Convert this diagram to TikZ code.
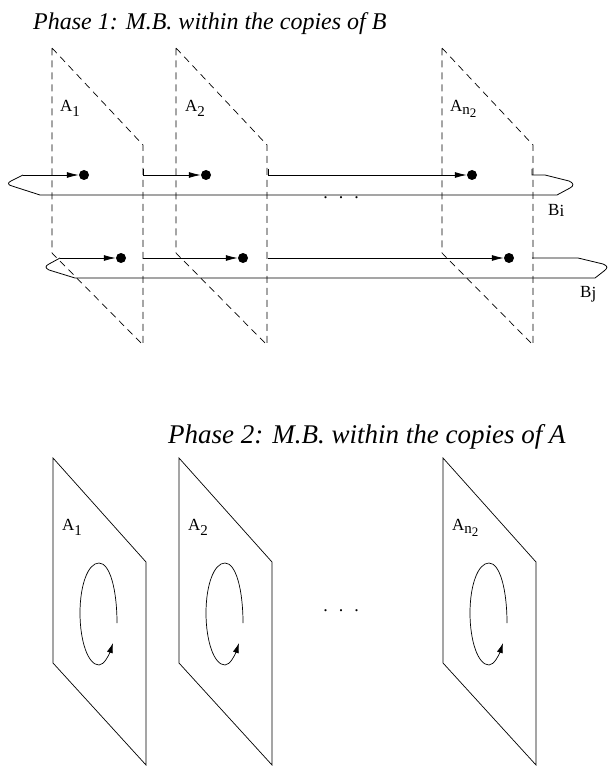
\documentclass[tikz,border=0pt]{standalone}
\usepackage{fontspec}
\setmainfont{Liberation Serif}
\usetikzlibrary{arrows.meta,calc}
\newcommand{\sub}[1]{\raisebox{-5pt}{\fontsize{15}{15}\selectfont #1}}
\newcommand{\subn}{\raisebox{-3pt}{\fontsize{15}{15}\selectfont n\raisebox{-3pt}{\fontsize{13}{13}\selectfont 2}}}
\newcommand{\tsub}[1]{\raisebox{-1.5pt}{#1}}

\begin{document}
\begin{tikzpicture}[
  x=1pt, y=-1pt,
  >={Latex[length=12pt,width=6pt]},
  hid/.style={line width=0.7pt, dash pattern=on 7pt off 5pt},
  sheet/.style={line width=0.7pt},
  tube/.style={line width=0.8pt},
  bead/.style={circle, fill=black, inner sep=0pt, minimum size=10pt},
  lab/.style={font=\fontsize{17}{20}\selectfont, inner sep=0pt, anchor=base west},
  ttl/.style={font=\itshape, inner sep=0pt, anchor=base west},
  dots/.style={font=\fontsize{18}{20}\selectfont, inner sep=0pt, anchor=base},
]
\useasboundingbox (0,0) rectangle (608,767);
% phase 1: dashed copies of A, crossed by the tubes B_i and B_j
\node[ttl, font=\itshape\fontsize{24}{28}\selectfont] (t1) at (33,30) {Phase 1: M.B. within the copies of B};
\foreach \L/\nm in {52/1,176/2,442/n}
  \draw[hid] (\L,48) -- ++(91,97) -- ++(0,200) -- ++(-91,-92) -- cycle;
\node[lab] (a1) at (60,112) {A\sub{1}};
\node[lab] (a2) at (185,112) {A\sub{2}};
\node[lab] (an) at (450,112) {A\subn};
% beads and the arrows that reach them
\foreach \t/\yy/\ba/\bb/\bc/\sa in {i/175/84/206/472/23, j/258/121/243/509/60}{
  \node[bead] (\t1) at (\ba,\yy) {};
  \node[bead] (\t2) at (\bb,\yy) {};
  \node[bead] (\t3) at (\bc,\yy) {};
  \coordinate (\t s1) at (\sa,\yy);
  \coordinate (\t s2) at (143,\yy);
  \coordinate (\t s3) at (268,\yy);
  \foreach \n in {1,2,3} \draw[tube,->] (\t s\n) -- (\t\n.west);
}
\foreach \xx in {143,268} \draw[tube] (\xx,169) -- (\xx,175);
% tube outlines
\draw[tube] (is1) -- (11,181) .. controls (7,183) and (8,185) .. (12,186) -- (40,195) -- (557,195)
  -- (570,188) .. controls (574,186) and (574,183) .. (569,181) -- (545,175) -- (532,175) -- (532,169);
\draw[tube] (js1) -- (49,264) .. controls (45,266) and (45,268) .. (49,270) -- (75,278) -- (595,278)
  -- (604,271) .. controls (608,268) and (608,266) .. (603,264) -- (578,258) -- (532,258);
\node[lab] (bi) at (548,215) {B\tsub{i}};
\node[lab] (bj) at (580,297) {B\tsub{j}};
\node[dots] (d1) at (341,199) {.\hspace{11pt}.\hspace{11pt}.};
% phase 2: copies of A, each with its own loop
\node[ttl, font=\itshape\fontsize{27}{30}\selectfont] (t2) at (168,443) {Phase 2: M.B. within the copies of A};
\foreach \L in {53,179,443}{
  \begin{scope}[shift={(\L,0)}]
    \draw[sheet] (0,458) -- (93,562) -- (93,765) -- (0,663) -- cycle;
    \draw[sheet, -{Latex[length=10pt,width=6pt]}] (64,623) .. controls (64,590) and (57,563) .. (46,563)
      .. controls (35,563) and (27,585) .. (27,613) .. controls (27,641) and (35,665) .. (46,665)
      .. controls (51,665) and (56,655) .. (60,643);
  \end{scope}
}
\node[lab] (p1) at (62,530) {A\sub{1}};
\node[lab] (p2) at (188,530) {A\sub{2}};
\node[lab] (pn) at (452,530) {A\subn};
\node[dots] (d2) at (341,611) {.\hspace{11pt}.\hspace{11pt}.};
\end{tikzpicture}
\end{document}
